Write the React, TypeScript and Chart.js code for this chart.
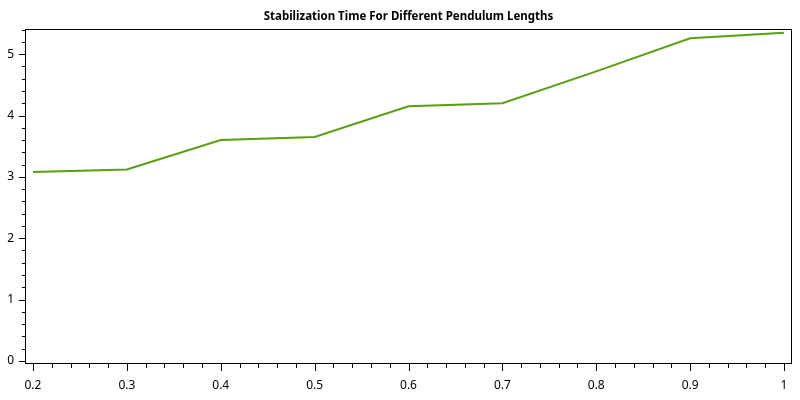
import React, { useEffect, useRef } from "react";
import { Chart, registerables } from "chart.js";

Chart.register(...registerables);

const lengths = [0.2, 0.3, 0.4, 0.5, 0.6, 0.7, 0.8, 0.9, 1.0];
const stabilizationTimes = [3.08, 3.12, 3.6, 3.65, 4.15, 4.2, 4.72, 5.26, 5.35];
const xMajorTicks = [0.2, 0.3, 0.4, 0.5, 0.6, 0.7, 0.8, 0.9, 1];
const yMajorTicks = [0, 1, 2, 3, 4, 5];
const titleText = "Stabilization Time For Different Pendulum Lengths";

const FONT = "'Noto Sans', 'Open Sans', sans-serif";

const framePlugin = {
  id: "frameAndTicks",
  afterDraw(chart: any) {
    const { ctx, chartArea } = chart;
    const xs = chart.scales.x;
    const ys = chart.scales.y;
    ctx.save();
    ctx.strokeStyle = "#000";
    ctx.lineWidth = 1;
    // frame
    ctx.strokeRect(
      Math.round(chartArea.left) + 0.5,
      Math.round(chartArea.top) + 0.5,
      Math.round(chartArea.right - chartArea.left) - 1,
      Math.round(chartArea.bottom - chartArea.top) - 1
    );
    // x ticks
    ctx.beginPath();
    for (let i = 0; i <= 40; i++) {
      const v = 0.2 + i * 0.02;
      const major = i % 5 === 0;
      const px = Math.round(xs.getPixelForValue(v)) + 0.5;
      const b = Math.round(chartArea.bottom);
      ctx.moveTo(px, b);
      ctx.lineTo(px, b + (major ? 7 : 4));
    }
    // y ticks
    for (let i = 0; i <= 27; i++) {
      const v = i * 0.2;
      if (v > ys.max) break;
      const major = i % 5 === 0;
      const py = Math.round(ys.getPixelForValue(v)) + 0.5;
      const l = Math.round(chartArea.left);
      ctx.moveTo(l, py);
      ctx.lineTo(l - (major ? 6 : 3), py);
    }
    ctx.stroke();
    // title
    ctx.fillStyle = "#000";
    ctx.font = `bold 11.5px ${FONT}`;
    ctx.textAlign = "center";
    ctx.textBaseline = "middle";
    ctx.fillText(titleText, (chartArea.left + chartArea.right) / 2, 17);
    ctx.restore();
  },
};

export default function App() {
  const ref = useRef<HTMLCanvasElement>(null);
  useEffect(() => {
    document.body.style.margin = "0";
    const chart = new Chart(ref.current as HTMLCanvasElement, {
      type: "line",
      data: {
        datasets: [
          {
            data: lengths.map((x, i) => ({ x, y: stabilizationTimes[i] })),
            borderColor: "#5a9e12",
            borderWidth: 2,
            pointRadius: 0,
            tension: 0,
            fill: false,
          },
        ],
      },
      options: {
        animation: false,
        responsive: false,
        maintainAspectRatio: false,
        layout: { padding: { top: 29, right: 8, left: 0, bottom: 0 } },
        plugins: { legend: { display: false }, title: { display: false }, tooltip: { enabled: false } },
        scales: {
          x: {
            type: "linear",
            min: 0.1915,
            max: 1.0085,
            afterBuildTicks: (s: any) => {
              s.ticks = xMajorTicks.map((v) => ({ value: v }));
            },
            afterFit: (s: any) => {
              s.height = 36;
            },
            ticks: {
              color: "#000",
              font: { family: FONT, size: 12 },
              padding: 7,
              maxRotation: 0,
              autoSkip: false,
              callback: (v: any) => String(Number(v)),
            },
            grid: { display: true, drawOnChartArea: false, tickLength: 7, tickColor: "rgba(0,0,0,0)" },
            border: { display: false },
          },
          y: {
            type: "linear",
            min: -0.05,
            max: 5.41,
            afterBuildTicks: (s: any) => {
              s.ticks = yMajorTicks.map((v) => ({ value: v }));
            },
            afterFit: (s: any) => {
              s.width = 25;
            },
            ticks: {
              color: "#000",
              font: { family: FONT, size: 12 },
              padding: 5,
              autoSkip: false,
              callback: (v: any) => String(Number(v)),
            },
            grid: { display: true, drawOnChartArea: false, tickLength: 6, tickColor: "rgba(0,0,0,0)" },
            border: { display: false },
          },
        },
      },
      plugins: [framePlugin],
    } as any);
    return () => chart.destroy();
  }, []);
  return (
    <div style={{ width: 800, height: 400 }}>
      <canvas ref={ref} width={800} height={400} style={{ display: "block", width: 800, height: 400 }} />
    </div>
  );
}
